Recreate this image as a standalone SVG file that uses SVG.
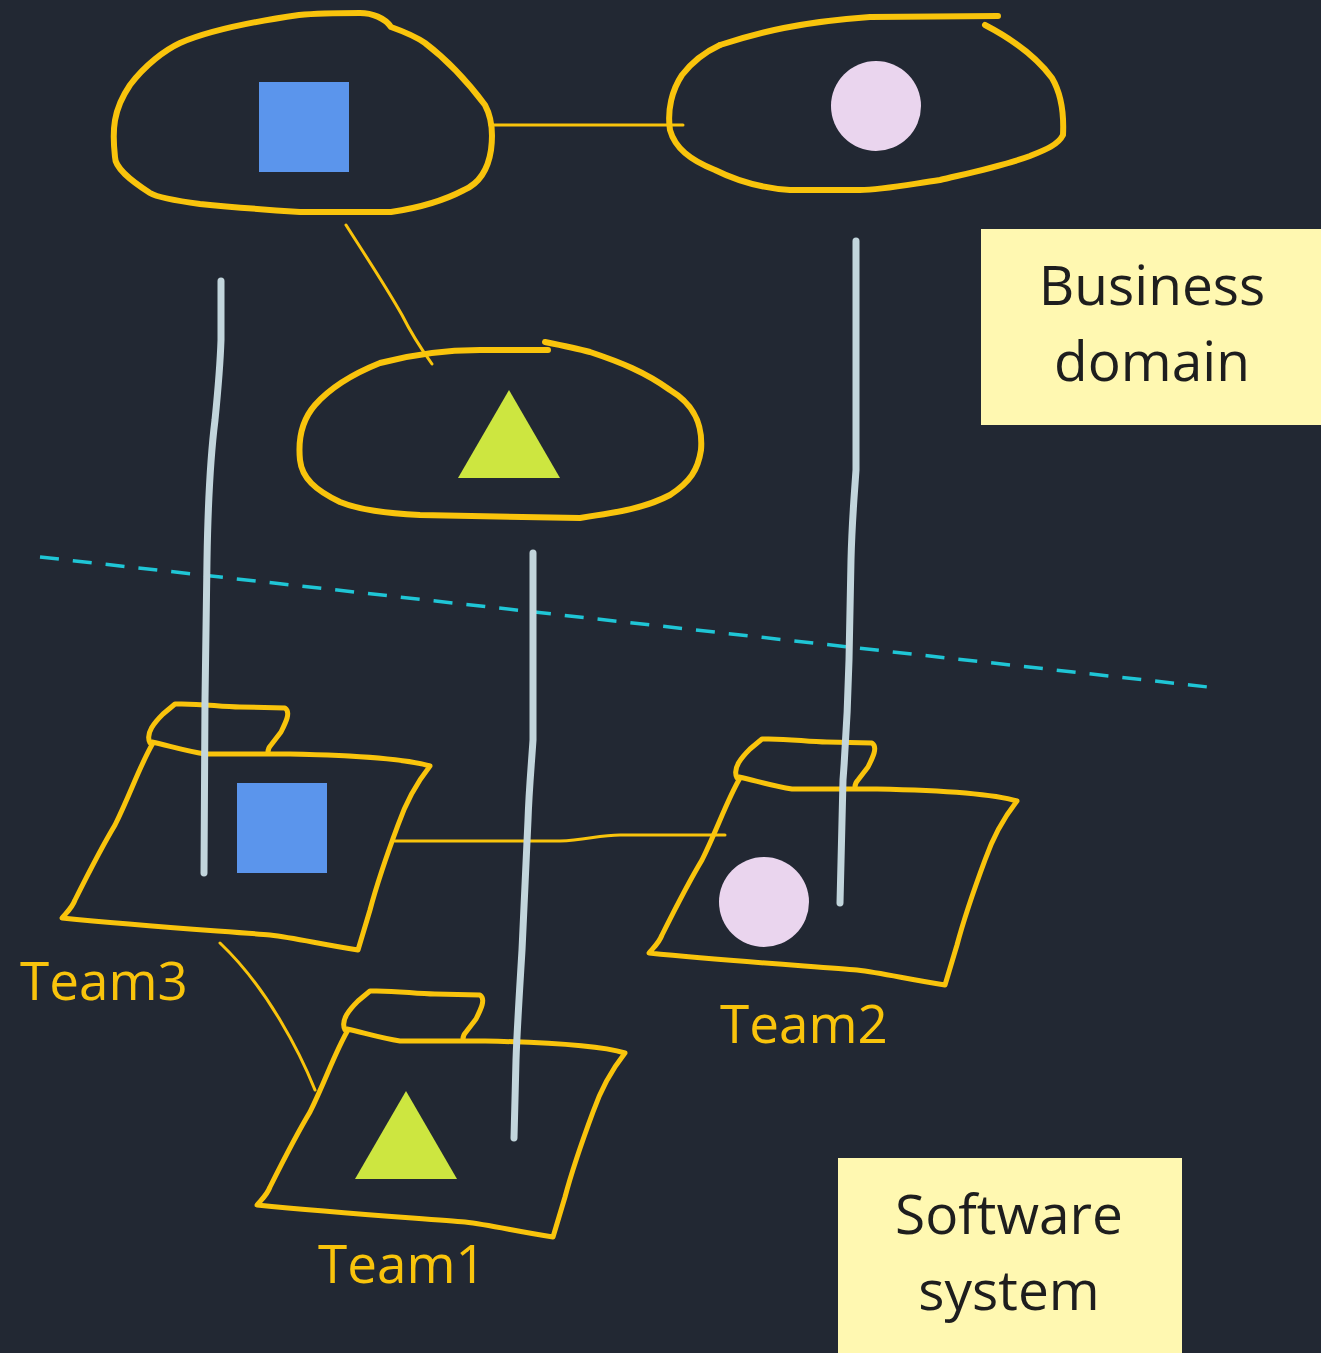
<svg xmlns="http://www.w3.org/2000/svg" width="1321" height="1353" viewBox="0 0 1321 1353">
<style>
.bg{fill:#222833}
.blob{fill:none;stroke:#f9c40c;stroke-width:6;stroke-linecap:round;stroke-linejoin:round}
.folder{fill:none;stroke:#f9c40c;stroke-width:5;stroke-linecap:round;stroke-linejoin:round}
.thin{fill:none;stroke:#f9c40c;stroke-width:3;stroke-linecap:round}
.gray{fill:none;stroke:#c2d5dc;stroke-width:7;stroke-linecap:round;stroke-linejoin:round}
.dash{fill:none;stroke:#1fc6d6;stroke-width:3.5;stroke-dasharray:19 14}
.sq{fill:#5b95ec}
.tri{fill:#cde640}
.circ{fill:#ead5ee}
.note{fill:#fff8b1}
.nt{font-family:"Open Sans","Noto Sans",sans-serif;font-size:55px;fill:#1e1e1e;text-anchor:middle}
.tl{font-family:"Open Sans","Noto Sans",sans-serif;font-size:53px;fill:#f9c40c}
</style>
<defs>
<g id="folderShape">
<path class="folder" d="M150,743 C145,733 155,722 163,714 L175,704 C200,703 220,707 240,707 L285,708 C291,712 286,722 281,732 L271,745 C268,748 268,751 268,752"/>
<path class="folder" d="M152,742 C170,746 185,751 205,754 L290,754 C340,755 400,757 430,766 C415,785 405,805 398,825 C385,860 378,880 370,910 L361,940 L358,950 C320,944 295,938 270,935 C240,932 150,927 62,918 C67,912 72,908 75,900 C85,880 100,850 115,825 C130,795 140,765 153,743 Z"/>
</g>
</defs>
<rect class="bg" x="0" y="0" width="1321" height="1353"/>

<g id="notes">
<g id="note-business">
<rect class="note" x="981" y="229" width="340" height="196"/>
<text class="nt" x="1152" y="305">Business</text>
<text class="nt" x="1152" y="381">domain</text>
</g>
<g id="note-software">
<rect class="note" x="838" y="1158" width="344" height="195"/>
<text class="nt" x="1009" y="1234">Software</text>
<text class="nt" x="1009" y="1310">system</text>
</g>
</g>

<g id="divider">
<line class="dash" x1="40" y1="557" x2="1217" y2="688"/>
</g>

<g id="connectors">
<path class="thin" d="M490,125 L683,125"/>
<path class="thin" d="M346,225 C365,255 385,285 402,315 C412,335 422,350 432,364"/>
<path class="thin" d="M395,841 L560,841 C585,840 600,835 620,835 L725,835"/>
<path class="thin" d="M220,943 C240,962 262,990 280,1020 C295,1045 305,1065 315,1090"/>
</g>

<g id="domain-blue">
<path class="blob" d="M299,15 C320,13 340,13 360,13 C372,13 385,18 391,27 C405,32 415,36 425,43 C450,62 470,85 485,105 C492,118 493,135 491,150 C488,170 480,183 464,190 C445,200 425,207 391,212 L300,212 C270,210 230,207 200,204 C170,200 155,196 150,193 C130,180 115,168 115,157 C112,130 113,110 130,85 C145,65 165,50 180,43 C210,30 250,22 299,15 Z"/>
<rect class="sq" x="259" y="82" width="90" height="90"/>
</g>

<g id="domain-pink">
<path class="blob" d="M720,45 C760,32 800,22 870,17 L998,16"/>
<path class="blob" d="M985,25 C1010,38 1035,55 1052,78 C1062,95 1064,115 1063,135 C1058,145 1045,150 1030,156 C1000,167 960,175 940,180 C900,186 880,190 860,190 L790,190 C760,188 735,180 715,170 C690,160 675,148 670,130 C667,110 672,90 682,75 C692,62 705,52 720,45"/>
<circle class="circ" cx="876" cy="106" r="45"/>
</g>

<g id="domain-green">
<path class="blob" d="M545,342 C560,345 575,348 590,352 C620,362 645,372 670,390 C695,405 703,425 701,450 C698,470 690,482 670,495 C645,508 620,512 580,518 L420,515 C385,513 360,510 340,502 C315,490 302,478 300,460 C298,440 302,420 315,405 C330,388 350,375 380,363 C410,355 440,350 480,350 L548,350"/>
<polygon class="tri" points="458,478 509,390 560,478"/>
</g>

<g id="team3">
<use href="#folderShape"/>
<rect class="sq" x="237" y="783" width="90" height="90"/>
<text class="tl" x="20" y="1000">Team3</text>
</g>

<g id="team1">
<use href="#folderShape" transform="translate(195,287)"/>
<polygon class="tri" points="355,1179 406,1091 457,1179"/>
<text class="tl" x="318" y="1283">Team1</text>
</g>

<g id="team2">
<use href="#folderShape" transform="translate(587,35)"/>
<circle class="circ" cx="764" cy="902" r="45"/>
<text class="tl" x="720" y="1043">Team2</text>
</g>

<g id="mapping-lines">
<path class="gray" d="M221,281 L221,340 C220,370 218,390 215,420 C210,460 208,500 207,560 L205,700 L204,873"/>
<path class="gray" d="M533,553 L533,740 C531,770 529,790 528,820 L522,950 C519,1000 517,1030 516,1060 L514,1138"/>
<path class="gray" d="M856,241 L856,470 C854,500 852,520 851,560 L849,660 C848,700 846,740 843,780 L840,903"/>
</g>
</svg>
